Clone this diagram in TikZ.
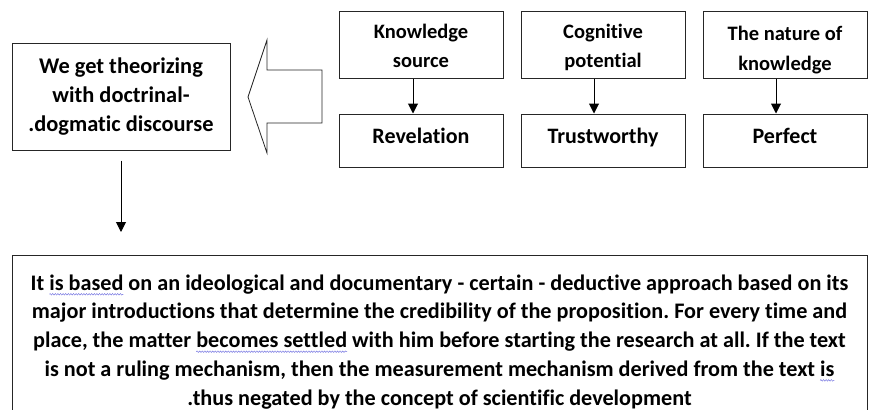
\documentclass[tikz,border=0pt]{standalone}
\usepackage{fontspec}
\setmainfont[Ligatures=NoCommon]{Carlito}
\usetikzlibrary{arrows.meta,decorations.pathmorphing}
\definecolor{sqc}{rgb}{0.45,0.45,0.88}
\newsavebox\spbox
\newcommand\splchk[1]{\sbox\spbox{#1}\usebox\spbox\tikz[overlay,baseline=0pt]\draw[sqc, line width=0.45pt, decorate, decoration={snake, amplitude=0.8pt, segment length=2.6pt}] (-\wd\spbox,-4pt) -- (0pt,-4pt);}
\tikzset{
  box/.style={draw=black!85, line width=1pt, align=center, inner sep=0pt, font=\bfseries},
  topbox/.style={box, minimum width=164pt, minimum height=67pt, text height=47pt, text depth=2pt, font=\fontsize{20.5}{28.5}\selectfont\bfseries},
  lowbox/.style={box, minimum width=164pt, minimum height=53pt, text height=15.5pt, text depth=9.5pt, font=\fontsize{22}{28}\selectfont\bfseries},
  link/.style={line width=1pt, -{Triangle[width=10pt,length=10pt]}},
}
\begin{document}
\frenchspacing
\begin{tikzpicture}[x=1pt, y=-1pt]
\useasboundingbox (0,0) rectangle (879,410);
% top row
\node[topbox] (ks) at (421,44.5) {Knowledge\\source};
\node[topbox] (cp) at (603,44.5) {Cognitive\\potential};
\node[topbox, text height=53pt, font=\fontsize{20.5}{30}\selectfont\bfseries] (nk) at (785,44.5) {The nature of\\knowledge};
% lower row
\node[lowbox] (rev) at (421,140.5) {Revelation};
\node[lowbox] (tru) at (603,140.5) {Trustworthy};
\node[lowbox] (per) at (785,140.5) {Perfect};
\draw[link] ([xshift=-8pt]ks.south) -- ([xshift=-8pt]rev.north);
\draw[link] ([xshift=-9pt]cp.south) -- ([xshift=-9pt]tru.north);
\draw[link] ([xshift=-9pt]nk.south) -- ([xshift=-9pt]per.north);
% left box
\node[box, minimum width=218pt, minimum height=107pt, text height=73pt, text depth=4pt, font=\fontsize{22.4}{29}\selectfont\bfseries] (lb) at (121,96.5)
  {We get theorizing\\with doctrinal-\\.dogmatic discourse};
% block arrow
\draw[line width=0.8pt, draw=black!85, line join=miter] (248,97) -- (267,40) -- (267,70) -- (322,70) -- (322,123) -- (267,123) -- (267,153) -- cycle;
% down arrow
\coordinate (dend) at (121,232);
\draw[link] ([yshift=-10pt]lb.south) -- (dend);
% bottom box (cut at the bottom)
\draw[line width=1pt, draw=black!85] (12,412) -- (12,255) -- (867,255) -- (867,412);
\node[align=center, inner sep=0pt, font=\fontsize{22.2}{28.7}\selectfont\bfseries, anchor=north] (desc) at (439.5,274.5)
 {It \splchk{is based} on an ideological and documentary - certain - deductive approach based on its\\
  major introductions that determine the credibility of the proposition. For every time and\\
  place, the matter \splchk{becomes settled} with him before starting the research at all. If the text\\
  is not a ruling mechanism, then the measurement mechanism derived from the text \splchk{is}\\
  .thus negated by the concept of scientific development};
\end{tikzpicture}
\end{document}
